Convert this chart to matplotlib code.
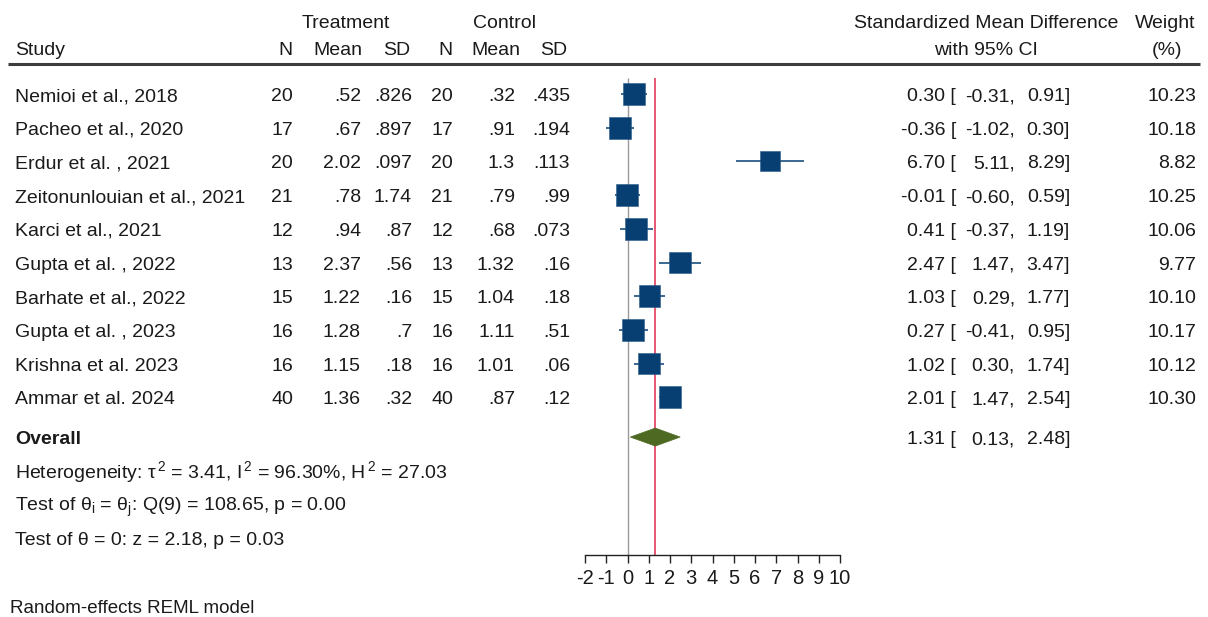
import matplotlib
matplotlib.use("Agg")
import matplotlib.pyplot as plt
from matplotlib.patches import Polygon

plt.rcParams['font.family'] = ['Liberation Sans', 'DejaVu Sans']
plt.rcParams['mathtext.fontset'] = 'custom'
plt.rcParams['mathtext.rm'] = 'Liberation Sans'
plt.rcParams['mathtext.it'] = 'Liberation Sans:italic'

# ---------------- data ----------------
studies = ["Nemioi et al., 2018", "Pacheo et al., 2020", "Erdur et al. , 2021",
           "Zeitonunlouian et al., 2021", "Karci et al., 2021", "Gupta et al. , 2022",
           "Barhate et al., 2022", "Gupta et al. , 2023", "Krishna et al. 2023",
           "Ammar et al. 2024"]
t_n = ["20", "17", "20", "21", "12", "13", "15", "16", "16", "40"]
t_mean = [".52", ".67", "2.02", ".78", ".94", "2.37", "1.22", "1.28", "1.15", "1.36"]
t_sd = [".826", ".897", ".097", "1.74", ".87", ".56", ".16", ".7", ".18", ".32"]
c_n = ["20", "17", "20", "21", "12", "13", "15", "16", "16", "40"]
c_mean = [".32", ".91", "1.3", ".79", ".68", "1.32", "1.04", "1.11", "1.01", ".87"]
c_sd = [".435", ".194", ".113", ".99", ".073", ".16", ".18", ".51", ".06", ".12"]
smd = [0.30, -0.36, 6.70, -0.01, 0.41, 2.47, 1.03, 0.27, 1.02, 2.01]
ci_low = [-0.31, -1.02, 5.11, -0.60, -0.37, 1.47, 0.29, -0.41, 0.30, 1.47]
ci_high = [0.91, 0.30, 8.29, 0.59, 1.19, 3.47, 1.77, 0.95, 1.74, 2.54]
weights = [10.23, 10.18, 8.82, 10.25, 10.06, 9.77, 10.10, 10.17, 10.12, 10.30]
overall = 1.31
overall_low = 0.13
overall_high = 2.48
x_ticks = list(range(-2, 11))

# ---------------- layout ----------------
W, H = 1208, 617
Y0, DY = 94.0, 33.7          # pixel centre of first row, row spacing
FS = 14
navy = '#073f72'
olive = '#4e6a22'
red = '#e0284f'
txt = '#1a1a1a'

def py(r):
    return Y0 + DY * r

fig = plt.figure(figsize=(W / 100, H / 100), dpi=100)
bg = fig.add_axes([0, 0, 1, 1])
bg.set_xlim(0, W)
bg.set_ylim(H, 0)
bg.axis('off')

# forest axes: x -2..10 maps to px 585..840, y bottom at px 555
ax_top, ax_bot = 70, 555
ax = fig.add_axes([585 / W, 1 - ax_bot / H, 255 / W, (ax_bot - ax_top) / H])
ax.set_xlim(-2, 10)
ax.set_ylim((ax_bot - Y0) / DY, (ax_top - Y0) / DY)
ax.patch.set_alpha(0)
for s in ['top', 'right', 'left']:
    ax.spines[s].set_visible(False)
ax.spines['bottom'].set_linewidth(1.0)
ax.spines['bottom'].set_color('#222222')
ax.set_yticks([])
ax.set_xticks(x_ticks)
ax.set_xticklabels([str(t) for t in x_ticks])
ax.tick_params(axis='x', direction='out', length=6, width=1.0, color='#222222',
               labelsize=FS + 0.5, pad=4, labelcolor=txt)

rows = list(range(len(studies)))
r_over = 10.18

# reference lines
line_top = (78 - Y0) / DY
ax.vlines(0, line_top, (ax_bot - Y0) / DY, color='#9a9a9a', lw=1.0, zorder=1)
ax.vlines(overall, line_top, (ax_bot - Y0) / DY, color=red, lw=1.1, zorder=1)

# CIs and squares
ax.hlines(rows, ci_low, ci_high, color=navy, lw=1.1, zorder=2)
ax.scatter(smd, rows, s=[23.9 * w for w in weights], marker='s', color=navy,
           edgecolors='#2a5a88', linewidths=0.4, zorder=3)

# overall diamond
hd = 9 / DY
ax.add_patch(Polygon([(overall_low, r_over), (overall, r_over - hd),
                      (overall_high, r_over), (overall, r_over + hd)],
                     closed=True, facecolor=olive, edgecolor=olive, lw=0.5, zorder=3))

# ---------------- text table ----------------
def t(x, y, s, ha='left', weight='normal', size=FS):
    bg.text(x, y, s, ha=ha, va='baseline', fontsize=size, color=txt, fontweight=weight)

off = 7.0
# headers
t(346, 28, "Treatment", ha='center')
t(505, 28, "Control", ha='center')
t(15, 55, "Study")
t(292, 55, "N", ha='right')
t(362, 55, "Mean", ha='right')
t(410, 55, "SD", ha='right')
t(452, 55, "N", ha='right')
t(520, 55, "Mean", ha='right')
t(567, 55, "SD", ha='right')
t(986, 28, "Standardized Mean Difference", ha='center')
t(986, 55, "with 95% CI", ha='center')
t(1165, 28, "Weight", ha='center')
t(1167, 55, "(%)", ha='center')
bg.plot([8, 1200], [64, 64], color='#3c3c3c', lw=2.2, solid_capstyle='butt')

cols = [(t_n, 293), (t_mean, 361), (t_sd, 412), (c_n, 453), (c_mean, 515), (c_sd, 570)]
for i, name in enumerate(studies):
    yb = py(rows[i]) + off
    t(15, yb, name)
    for vals, xr in cols:
        t(xr, yb, vals[i], ha='right')
    t(956, yb, f"{smd[i]:.2f} [", ha='right')
    t(1015, yb, f"{ci_low[i]:.2f},", ha='right')
    t(1070, yb, f"{ci_high[i]:.2f}]", ha='right')
    t(1196, yb, f"{weights[i]:.2f}", ha='right')

yb = py(r_over) + off
t(15, yb, "Overall", weight='bold')
t(956, yb, f"{overall:.2f} [", ha='right')
t(1015, yb, f"{overall_low:.2f},", ha='right')
t(1070, yb, f"{overall_high:.2f}]", ha='right')

t(15, py(r_over + 1) + off,
  r"Heterogeneity: τ$^{\,2}$ = 3.41, I$^{\,2}$ = 96.30%, H$^{\,2}$ = 27.03")
t(15, py(r_over + 2) + off, r"Test of θ$_\mathrm{i}$ = θ$_\mathrm{j}$: Q(9) = 108.65, p = 0.00")
t(15, py(r_over + 3) + off, "Test of θ = 0: z = 2.18, p = 0.03")
t(10, 613, "Random-effects REML model", size=FS - 0.5)

fig.savefig("out.png", dpi=100)
